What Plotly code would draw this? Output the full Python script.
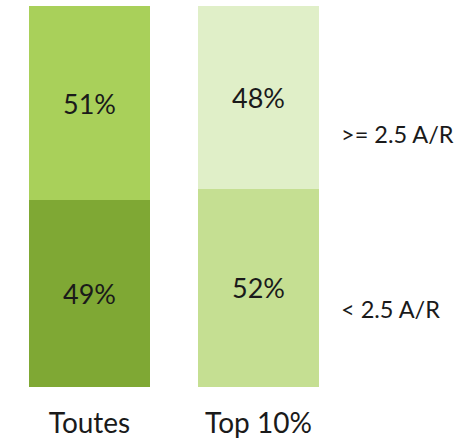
import plotly.graph_objects as go

categories = ["Toutes", "Top 10%"]
below_25 = [49, 52]
above_25 = [51, 48]
series_names = ["< 2.5 A/R", ">= 2.5 A/R"]

font_family = "Lato, 'Open Sans', sans-serif"

fig = go.Figure()

# bottom segment: < 2.5 A/R
fig.add_trace(go.Bar(
    x=categories, y=below_25,
    name=series_names[0],
    marker=dict(color=["#7fa834", "#c5df92"], line=dict(width=0)),
    text=[f"{v}%" for v in below_25],
    textposition="inside", insidetextanchor="middle",
    textfont=dict(size=27, color="#1a1a1a", family=font_family),
    width=0.716,
))
# top segment: >= 2.5 A/R
fig.add_trace(go.Bar(
    x=categories, y=above_25,
    name=series_names[1],
    marker=dict(color=["#a9d05a", "#e0efc8"], line=dict(width=0)),
    text=[f"{v}%" for v in above_25],
    textposition="inside", insidetextanchor="middle",
    textfont=dict(size=27, color="#1a1a1a", family=font_family),
    width=0.716,
))

# series labels to the right of the second bar
fig.add_annotation(x=1.476, y=66.5, xref="x", yref="y", text=series_names[1],
                   showarrow=False, xanchor="left", yanchor="middle",
                   font=dict(size=23.5, color="#1a1a1a", family=font_family))
fig.add_annotation(x=1.476, y=20.6, xref="x", yref="y", text=series_names[0],
                   showarrow=False, xanchor="left", yanchor="middle",
                   font=dict(size=23.5, color="#1a1a1a", family=font_family))

fig.update_layout(
    barmode="stack",
    width=457, height=439,
    margin=dict(l=0, r=0, t=6, b=49),
    paper_bgcolor="white", plot_bgcolor="white",
    showlegend=False,
    hovermode=False,
    uniformtext=dict(mode="show", minsize=10),
    xaxis=dict(
        range=[-0.5296, 2.1746],
        showgrid=False, zeroline=False, showline=False, ticks="",
        tickfont=dict(size=28, color="#1a1a1a", family=font_family),
        ticklabelstandoff=17,
    ),
    yaxis=dict(
        range=[0, 100],
        visible=False,
    ),
)

# drop the browser's default page margin so the figure sits at the window's corner
fig.write_html("out.html", config={"displayModeBar": False},
               post_script="document.body.style.margin='0';")
